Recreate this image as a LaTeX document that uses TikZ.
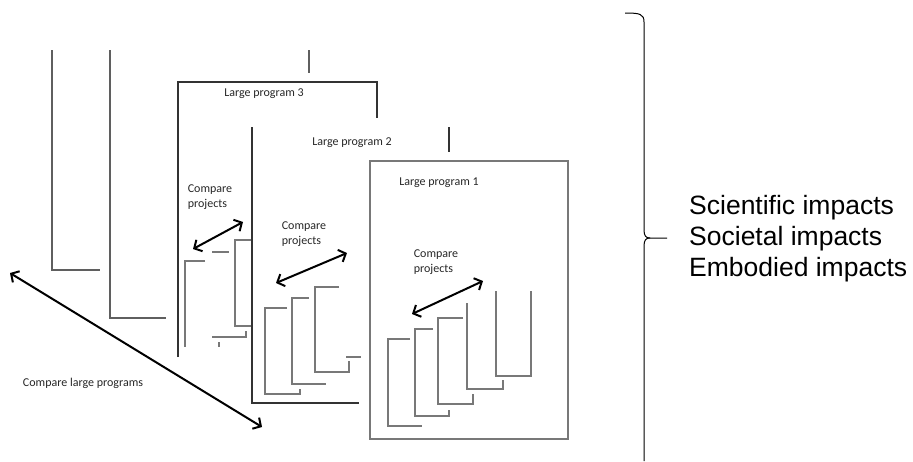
\documentclass[tikz,border=0pt]{standalone}
\usepackage{fontspec}
\usepackage{tikz}
\usetikzlibrary{arrows.meta, positioning, calc}
\newfontfamily\handfont{Carlito}
\newfontfamily\impactfont{Liberation Sans}
\definecolor{framegray}{RGB}{95,95,95}
\definecolor{projgray}{RGB}{120,120,120}

\begin{document}
\begin{tikzpicture}[x=1pt, y=-1pt,
    frameline/.style={framegray, line width=1.1pt},
    boxline/.style={black!80, line width=1.1pt},
    projline/.style={projgray, line width=1.3pt},
    cmp/.style={black, line width=2pt, {Straight Barb[length=6pt,width=13pt]}-{Straight Barb[length=6pt,width=13pt]}},
    lbl/.style={font=\handfont\fontsize{12}{14.5}\selectfont, inner sep=0pt, align=left, text=black!85}]
  \useasboundingbox (0,0) rectangle (913,461);

  % frames of the programs far behind
  \draw[frameline] (52,50) -- (52,270) -- (100,270);
  \draw[frameline] (110,50) -- (110,318) -- (166,318);
  \draw[frameline] (309,50) -- (309,73);

  % large program 3
  \draw[boxline] (178,357) -- (178,82) -- (377,82) -- (377,118);
  \node[lbl] (lp3) at (264,94) {Large program 3};
  \node[lbl] (cp3) at (210,197) {Compare\\projects};
  \foreach \l/\t/\s/\b/\r/\u in {185/261/205/347/185/347, 235/240/251/326/251/326} {
    \draw[projline] (\s,\t) -- (\l,\t) -- (\l,\b) -- (\r,\b) -- (\r,\u);
  }
  \draw[projline] (212,252) -- (229,252);
  \draw[projline] (212,337) -- (246,337) -- (246,331);
  \draw[projline] (219,342) -- (219,347);
  \coordinate (p3a) at (193,249);
  \coordinate (p3b) at (243,222);
  \draw[cmp] (p3a) -- (p3b);

  % large program 2
  \draw[boxline] (252,127) -- (252,403) -- (359,403);
  \draw[boxline] (449,127) -- (449,152);
  \node[lbl] (lp2) at (352,143) {Large program 2};
  \node[lbl] (cp2) at (304,234) {Compare\\projects};
  \foreach \l/\t/\s/\b/\r/\u in {265/308/287/394/300/389, 292/298/309/384/326/384, 315/287/339/372/349/361} {
    \draw[projline] (\s,\t) -- (\l,\t) -- (\l,\b) -- (\r,\b) -- (\r,\u);
  }
  \draw[projline] (346,357) -- (361,357);
  \coordinate (p2a) at (276,283);
  \coordinate (p2b) at (347,253);
  \draw[cmp] (p2a) -- (p2b);

  % large program 1
  \draw[projline, line width=1.6pt] (370,161) rectangle (568,439);
  \node[lbl] (lp1) at (439,183) {Large program 1};
  \node[lbl] (cp1) at (436,262) {Compare\\projects};
  \foreach \l/\t/\s/\b/\r/\u in {388/339/410/426/422/426, 415/329/433/416/449/410, 438/318/463/404/473/394, 467/303/467/389/503/380, 496/291/496/376/531/291} {
    \draw[projline] (\s,\t) -- (\l,\t) -- (\l,\b) -- (\r,\b) -- (\r,\u);
  }
  \coordinate (p1a) at (412,314);
  \coordinate (p1b) at (483,281);
  \draw[cmp] (p1a) -- (p1b);

  % compare the large programs
  \coordinate (lpa) at (10,273);
  \coordinate (lpb) at (262,427);
  \draw[cmp] (lpa) -- (lpb);
  \node[lbl] (clp) at (83,383) {Compare large programs};

  % brace and impacts
  \draw[black, line width=1pt] (625,13) .. controls (640,13) and (644,14) .. (644,22) -- (644,230)
    .. controls (644,236) and (646,238) .. (650,238) -- (667,238);
  \draw[black, line width=1pt] (650,238) .. controls (646,238) and (644,240) .. (644,246) -- (644,461);
  \node[anchor=west, inner sep=0pt, align=left, font=\impactfont\fontsize{26.5}{31}\selectfont]
    (imp) at (689,239) {Scientific impacts\\Societal impacts\\Embodied impacts};
\end{tikzpicture}
\end{document}
